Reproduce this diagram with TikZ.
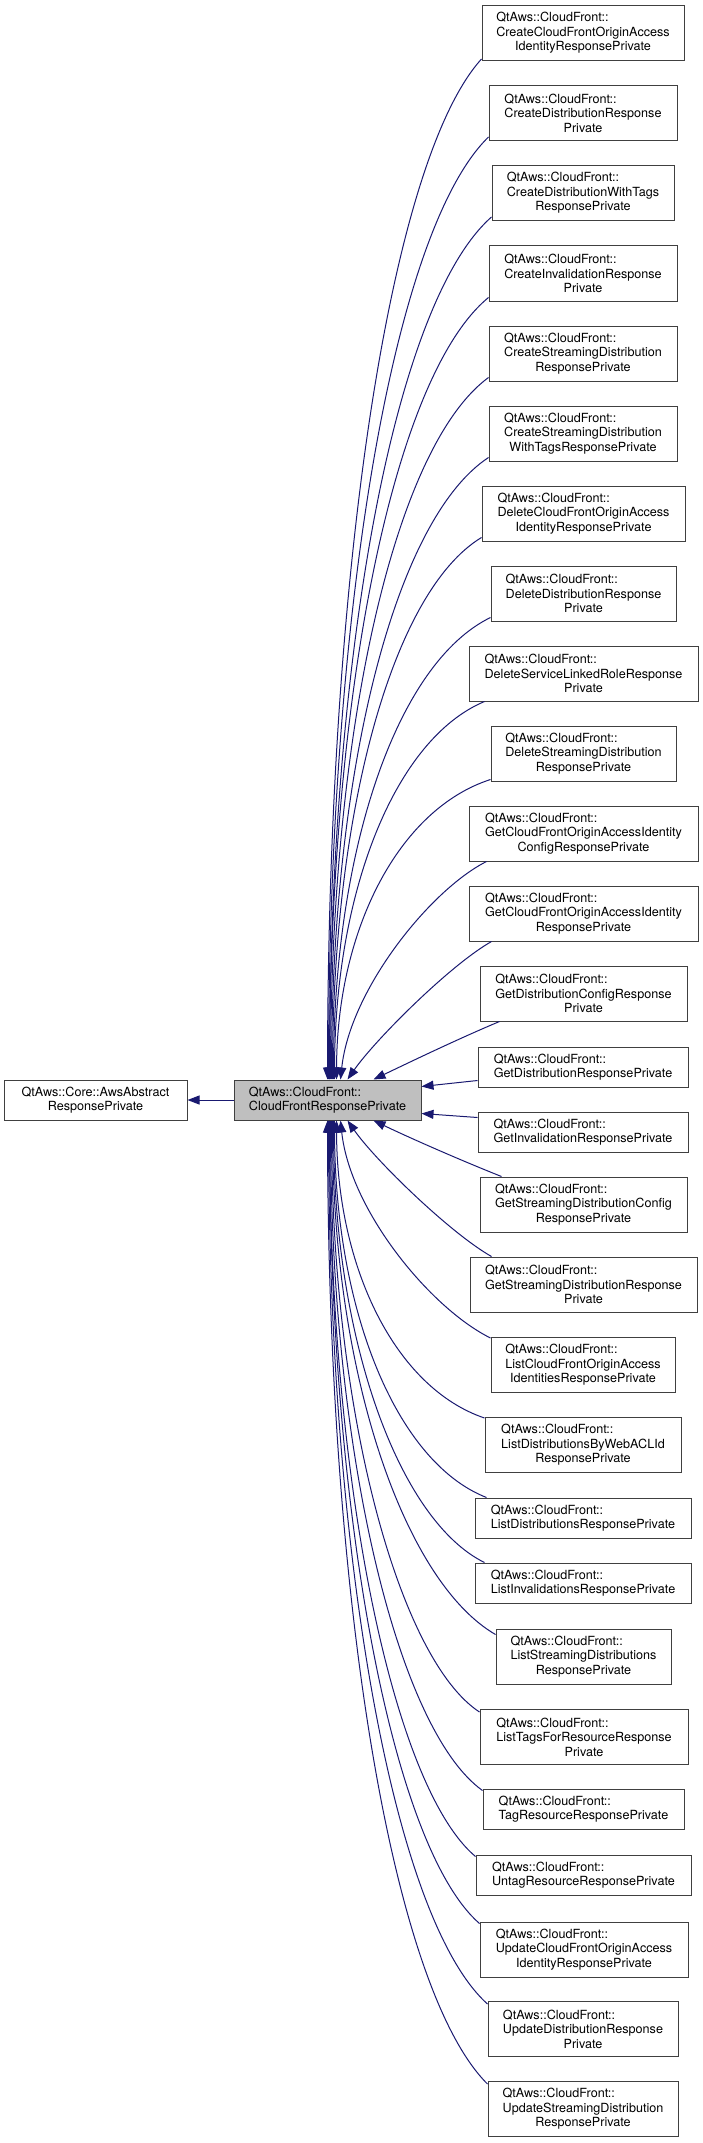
\documentclass[tikz,border=0pt]{standalone}
\usepackage{fontspec}
\setmainfont{TeX Gyre Heros}
\usetikzlibrary{arrows.meta}
\definecolor{midblue}{HTML}{191970}
\definecolor{boxline}{HTML}{404040}
\definecolor{curfill}{HTML}{BFBFBF}
\newcommand\tlab[3]{\setbox0\hbox{#2}\makebox[\wd0][l]{#1}\\#2\\#3}
\newcommand\dlab[2]{\setbox0\hbox{#2}\makebox[\wd0][l]{#1}\\#2}
\tikzset{
  box/.style={draw=boxline, line width=1pt, fill=white, inner sep=0pt, align=center,
    font=\fontsize{12.6}{14.5}\selectfont},
  three/.style={box, minimum height=55pt},
  two/.style={box, minimum height=40pt},
  edge/.style={draw=midblue, line width=1pt, {Triangle[length=12pt,width=9pt]}-}
}
\begin{document}
\begin{tikzpicture}[x=1pt,y=-1pt]
\useasboundingbox (0,0) rectangle (703,2143);
\node[two, minimum width=183pt] (b) at (95.5,1100) {QtAws::Core::AwsAbstract\\ResponsePrivate};
\node[two, minimum width=187pt, fill=curfill] (c) at (327.5,1100) {\dlab{QtAws::CloudFront::}{CloudFrontResponsePrivate}};
\node[three, minimum width=202pt] (n1) at (583,33) {\tlab{QtAws::CloudFront::}{CreateCloudFrontOriginAccess}{IdentityResponsePrivate}};
\node[three, minimum width=188pt] (n2) at (583,113) {\tlab{QtAws::CloudFront::}{CreateDistributionResponse}{Private}};
\node[three, minimum width=182pt] (n3) at (583,193) {\tlab{QtAws::CloudFront::}{CreateDistributionWithTags}{ResponsePrivate}};
\node[three, minimum width=188pt] (n4) at (583,273.5) {\tlab{QtAws::CloudFront::}{CreateInvalidationResponse}{Private}};
\node[three, minimum width=188pt] (n5) at (583,353.5) {\tlab{QtAws::CloudFront::}{CreateStreamingDistribution}{ResponsePrivate}};
\node[three, minimum width=188pt] (n6) at (583,433.5) {\tlab{QtAws::CloudFront::}{CreateStreamingDistribution}{WithTagsResponsePrivate}};
\node[three, minimum width=203pt] (n7) at (583.5,513.5) {\tlab{QtAws::CloudFront::}{DeleteCloudFrontOriginAccess}{IdentityResponsePrivate}};
\node[three, minimum width=185pt] (n8) at (583.5,593.5) {\tlab{QtAws::CloudFront::}{DeleteDistributionResponse}{Private}};
\node[three, minimum width=229pt] (n9) at (583.5,673.5) {\tlab{QtAws::CloudFront::}{DeleteServiceLinkedRoleResponse}{Private}};
\node[three, minimum width=185pt] (n10) at (583.5,753.5) {\tlab{QtAws::CloudFront::}{DeleteStreamingDistribution}{ResponsePrivate}};
\node[three, minimum width=229pt] (n11) at (583.5,833.5) {\tlab{QtAws::CloudFront::}{GetCloudFrontOriginAccessIdentity}{ConfigResponsePrivate}};
\node[three, minimum width=229pt] (n12) at (583.5,913.5) {\tlab{QtAws::CloudFront::}{GetCloudFrontOriginAccessIdentity}{ResponsePrivate}};
\node[three, minimum width=207pt] (n13) at (583.5,993.5) {\tlab{QtAws::CloudFront::}{GetDistributionConfigResponse}{Private}};
\node[two, minimum width=210pt] (n14) at (583,1067) {\dlab{QtAws::CloudFront::}{GetDistributionResponsePrivate}};
\node[two, minimum width=210pt] (n15) at (583,1132) {\dlab{QtAws::CloudFront::}{GetInvalidationResponsePrivate}};
\node[three, minimum width=207pt] (n16) at (583.5,1204.5) {\tlab{QtAws::CloudFront::}{GetStreamingDistributionConfig}{ResponsePrivate}};
\node[three, minimum width=227pt] (n17) at (583.5,1284.5) {\tlab{QtAws::CloudFront::}{GetStreamingDistributionResponse}{Private}};
\node[three, minimum width=184pt] (n18) at (583,1365) {\tlab{QtAws::CloudFront::}{ListCloudFrontOriginAccess}{IdentitiesResponsePrivate}};
\node[three, minimum width=196pt] (n19) at (583,1445) {\tlab{QtAws::CloudFront::}{ListDistributionsByWebACLId}{ResponsePrivate}};
\node[two, minimum width=216pt] (n20) at (583,1518) {\dlab{QtAws::CloudFront::}{ListDistributionsResponsePrivate}};
\node[two, minimum width=216pt] (n21) at (583,1583) {\dlab{QtAws::CloudFront::}{ListInvalidationsResponsePrivate}};
\node[three, minimum width=175pt] (n22) at (583.5,1656.5) {\tlab{QtAws::CloudFront::}{ListStreamingDistributions}{ResponsePrivate}};
\node[three, minimum width=208pt] (n23) at (584,1737) {\tlab{QtAws::CloudFront::}{ListTagsForResourceResponse}{Private}};
\node[two, minimum width=201pt] (n24) at (583.5,1809) {\dlab{QtAws::CloudFront::}{TagResourceResponsePrivate}};
\node[two, minimum width=215pt] (n25) at (583.5,1875) {\dlab{QtAws::CloudFront::}{UntagResourceResponsePrivate}};
\node[three, minimum width=208pt] (n26) at (584,1949.5) {\tlab{QtAws::CloudFront::}{UpdateCloudFrontOriginAccess}{IdentityResponsePrivate}};
\node[three, minimum width=190pt] (n27) at (583,2029) {\tlab{QtAws::CloudFront::}{UpdateDistributionResponse}{Private}};
\node[three, minimum width=190pt] (n28) at (583,2109) {\tlab{QtAws::CloudFront::}{UpdateStreamingDistribution}{ResponsePrivate}};
% base edge
\draw[edge] (b.east) -- (c.west);
% upper edges
\draw[edge] ([xshift=94pt]c.north west) .. controls (328,569) and (390,160) .. ([yshift=2pt]n1.south west);
\draw[edge] ([xshift=95pt]c.north west) .. controls (329,608) and (393,230) .. ([yshift=4pt]n2.south west);
\draw[edge] ([xshift=96pt]c.north west) .. controls (330,648) and (395,302) .. ([yshift=4pt]n3.south west);
\draw[edge] ([xshift=96pt]c.north west) .. controls (330,689) and (394,375) .. ([yshift=4pt]n4.south west);
\draw[edge] ([xshift=97pt]c.north west) .. controls (331,729) and (394,447) .. ([yshift=4pt]n5.south west);
\draw[edge] ([xshift=98pt]c.north west) .. controls (332,769) and (395,519) .. ([yshift=4pt]n6.south west);
\draw[edge] ([xshift=99pt]c.north west) .. controls (333,809) and (393,591) .. ([yshift=4pt]n7.south west);
\draw[edge] ([xshift=100pt]c.north west) .. controls (334,849) and (397,663) .. ([yshift=4pt]n8.south west);
\draw[edge] ([xshift=101pt]c.north west) .. controls (335,891) and (395,739) .. ([xshift=16pt]n9.south west);
\draw[edge] ([xshift=103pt]c.north west) .. controls (337,929) and (399,809) .. ([yshift=2pt]n10.south west);
\draw[edge] ([xshift=107pt]c.north west) .. controls (350,990) and (430,890) .. ([xshift=18pt]n11.south west);
\draw[edge] ([xshift=114pt]c.north west) .. controls (375,1040) and (450,965) .. ([xshift=23pt]n12.south west);
\draw[edge] ([xshift=140pt]c.north west) .. controls (410,1062) and (460,1038) .. ([xshift=20pt]n13.south west);
% side edges
\draw[edge] ([yshift=-7pt]c.north east) -- ([yshift=7pt]n14.south west);
\draw[edge] ([yshift=7pt]c.south east) -- ([yshift=-6pt]n15.north west);
% lower edges
\draw[edge] ([xshift=140pt]c.south west) .. controls (410,1138) and (460,1160) .. ([xshift=22pt]n16.north west);
\draw[edge] ([xshift=114pt]c.south west) .. controls (375,1160) and (450,1233) .. ([xshift=22pt]n17.north west);
\draw[edge] ([xshift=107pt]c.south west) .. controls (350,1210) and (430,1308) .. ([yshift=-1pt]n18.north west);
\draw[edge] ([xshift=103pt]c.south west) .. controls (337,1269) and (396,1388) .. ([yshift=-1pt]n19.north west);
\draw[edge] ([xshift=101pt]c.south west) .. controls (335,1310) and (396,1462) .. ([xshift=12pt]n20.north west);
\draw[edge] ([xshift=100pt]c.south west) .. controls (334,1343) and (400,1521) .. ([xshift=10pt]n21.north west);
\draw[edge] ([xshift=99pt]c.south west) .. controls (333,1377) and (405,1582) .. ([yshift=-6pt]n22.north west);
\draw[edge] ([xshift=98pt]c.south west) .. controls (332,1417) and (400,1660) .. ([yshift=-3pt]n23.north west);
\draw[edge] ([xshift=97pt]c.south west) .. controls (331,1456) and (398,1730) .. ([yshift=-2pt]n24.north west);
\draw[edge] ([xshift=96pt]c.south west) .. controls (330,1489) and (394,1788) .. ([yshift=-2pt]n25.north west);
\draw[edge] ([xshift=96pt]c.south west) .. controls (330,1522) and (393,1848) .. ([yshift=-2pt]n26.north west);
\draw[edge] ([xshift=95pt]c.south west) .. controls (329,1563) and (394,1920) .. ([yshift=-3pt]n27.north west);
\draw[edge] ([xshift=94pt]c.south west) .. controls (328,1603) and (392,1989) .. ([yshift=-3pt]n28.north west);
\end{tikzpicture}
\end{document}
